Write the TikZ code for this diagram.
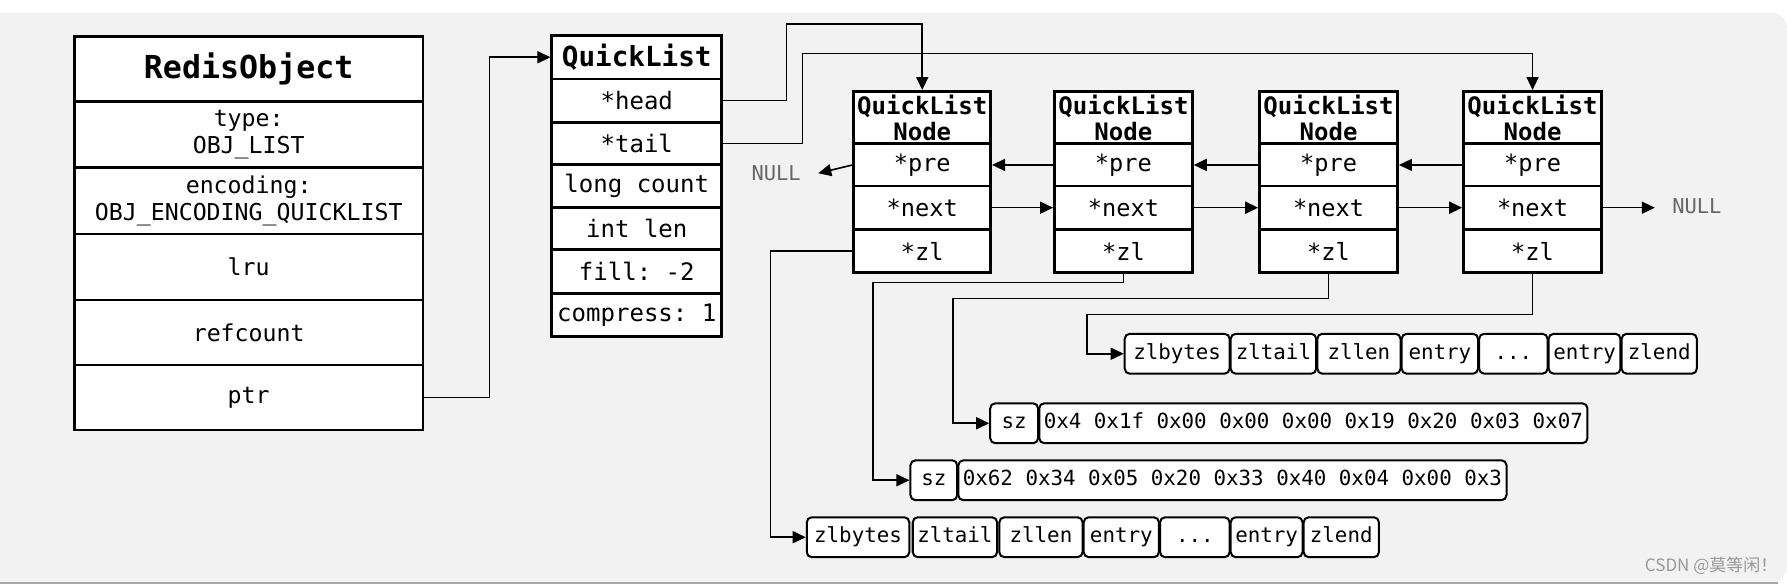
\documentclass[tikz,border=0pt]{standalone}
\usepackage{fontspec}
\setmonofont{DejaVu Sans Mono}
\newfontfamily\cjkfont{Noto Sans CJK SC}
\usetikzlibrary{arrows.meta}
\newlength\pxu \setlength\pxu{0.02cm}
\newcommand\bx[7]{\node[#1, minimum width={(#5-#3)*\pxu}, minimum height={(#6-#4)*\pxu}] (#2) at (#3,#4) {#7};}
\definecolor{bggray}{HTML}{F2F2F2}
\tikzset{
 base/.style={draw, line width=1.4pt, fill=white, inner sep=0pt, anchor=north west, align=center, font=\ttfamily\fontsize{11.6}{13.6}\selectfont},
 rtitle/.style={base, font=\ttfamily\bfseries\fontsize{15.8}{18}\selectfont},
 qrow/.style={base, font=\ttfamily\fontsize{12}{14}\selectfont},
 qtitle/.style={base, font=\ttfamily\bfseries\fontsize{13.8}{16}\selectfont},
 nhead/.style={base, font=\ttfamily\bfseries\fontsize{12}{13}\selectfont},
 nrow/.style={base, font=\ttfamily\fontsize{11.8}{14}\selectfont},
 zcell/.style={draw, line width=1pt, fill=white, rounded corners=2.5pt, inner sep=0pt, anchor=north west, font=\ttfamily\fontsize{10.4}{12}\selectfont, text height=0.75em, text depth=0.22em},
 conn/.style={line width=0.8pt, -{Triangle[length=6.5pt,width=6pt]}},
 nulltxt/.style={text=black!60, font=\ttfamily\fontsize{10.2}{12}\selectfont, inner xsep=15\pxu, inner ysep=0pt}
}
\begin{document}
\begin{tikzpicture}[x=0.02cm, y=-0.02cm]
\useasboundingbox (0,0) rectangle (1568,512);
\fill[white] (0,0) rectangle (1568,512);
\fill[bggray, rounded corners=8pt] (-20,11) rectangle (1568,511);
\draw[black!35, line width=0.8pt] (0,511.5) -- (1560,511.5);
% RedisObject
\bx{rtitle}{rt}{64}{31}{370}{88}{RedisObject}
\bx{base}{rtype}{64}{88}{370}{146}{type:\\OBJ\textunderscore LIST}
\bx{base}{renc}{64}{146}{370}{204}{encoding:\\OBJ\textunderscore ENCODING\textunderscore QUICKLIST}
\bx{base}{rlru}{64}{204}{370}{262}{lru}
\bx{base}{rref}{64}{262}{370}{319}{refcount}
\bx{base}{ptr}{64}{319}{370}{376}{ptr}
% QuickList
\bx{qtitle}{qlt}{483}{30}{632}{68}{QuickList}
\bx{qrow}{qhead}{483}{68}{632}{106}{*head}
\bx{qrow}{qtail}{483}{106}{632}{143}{*tail}
\bx{qrow}{qcount}{483}{143}{632}{181}{long count}
\bx{qrow}{qlen}{483}{181}{632}{218}{int len}
\bx{qrow}{qfill}{483}{218}{632}{256}{fill: -2}
\bx{qrow}{qcomp}{483}{256}{632}{294}{compress: 1}
% QuickList nodes
\bx{nhead}{n1h}{748}{79}{868}{125}{QuickList\\Node}
\bx{nrow}{n1pre}{748}{125}{868}{162}{*pre}
\bx{nrow}{n1next}{748}{162}{868}{200}{*next}
\bx{nrow}{n1zl}{748}{200}{868}{238}{*zl}
\bx{nhead}{n2h}{924}{79}{1045}{125}{QuickList\\Node}
\bx{nrow}{n2pre}{924}{125}{1045}{162}{*pre}
\bx{nrow}{n2next}{924}{162}{1045}{200}{*next}
\bx{nrow}{n2zl}{924}{200}{1045}{238}{*zl}
\bx{nhead}{n3h}{1104}{79}{1225}{125}{QuickList\\Node}
\bx{nrow}{n3pre}{1104}{125}{1225}{162}{*pre}
\bx{nrow}{n3next}{1104}{162}{1225}{200}{*next}
\bx{nrow}{n3zl}{1104}{200}{1225}{238}{*zl}
\bx{nhead}{n4h}{1283}{79}{1404}{125}{QuickList\\Node}
\bx{nrow}{n4pre}{1283}{125}{1404}{162}{*pre}
\bx{nrow}{n4next}{1283}{162}{1404}{200}{*next}
\bx{nrow}{n4zl}{1283}{200}{1404}{238}{*zl}
% NULL labels
\node[nulltxt, anchor=east] (nl) at (718,152) {NULL};
\node[nulltxt, anchor=west] (nr) at (1452,181) {NULL};
% ziplist top
\bx{zcell}{za1}{986}{292}{1078}{327}{zlbytes}
\bx{zcell}{za2}{1079}{292}{1154}{327}{zltail}
\bx{zcell}{za3}{1155}{292}{1228}{327}{zllen}
\bx{zcell}{za4}{1229}{292}{1296}{327}{entry}
\bx{zcell}{za5}{1297}{292}{1357}{327}{...}
\bx{zcell}{za6}{1358}{292}{1421}{327}{entry}
\bx{zcell}{za7}{1422}{292}{1488}{327}{zlend}
% compressed 1
\bx{zcell}{s1}{868}{353}{910}{388}{sz}
\bx{zcell}{d1}{911}{353}{1392}{388}{0x4 0x1f 0x00 0x00 0x00 0x19 0x20 0x03 0x07}
% compressed 2
\bx{zcell}{s2}{798}{403}{839}{438}{sz}
\bx{zcell}{d2}{840}{403}{1321}{438}{0x62 0x34 0x05 0x20 0x33 0x40 0x04 0x00 0x3}
% ziplist bottom
\bx{zcell}{zb1}{707}{453}{797}{488}{zlbytes}
\bx{zcell}{zb2}{800}{453}{874}{488}{zltail}
\bx{zcell}{zb3}{876}{453}{949}{488}{zllen}
\bx{zcell}{zb4}{950}{453}{1016}{488}{entry}
\bx{zcell}{zb5}{1017}{453}{1078}{488}{...}
\bx{zcell}{zb6}{1079}{453}{1142}{488}{entry}
\bx{zcell}{zb7}{1143}{453}{1209}{488}{zlend}
% connectors
\coordinate (h1) at (690,21);
\coordinate (t1) at (704,47);
\coordinate (c2) at (766,248);
\coordinate (c3) at (836,262);
\coordinate (c4) at (954,276);
\draw[conn] (ptr.east) -- ++(57,0) |- (qlt.west);
\draw[conn] (qhead.east) -| (h1) -| (n1h.north);
\draw[conn] (qtail.east) -| (t1) -| (n4h.north);
\draw[conn] (n1pre.west) -- (nl.east);
\draw[conn] (n2pre.west) -- (n1pre.east);
\draw[conn] (n3pre.west) -- (n2pre.east);
\draw[conn] (n4pre.west) -- (n3pre.east);
\draw[conn] (n1next.east) -- (n2next.west);
\draw[conn] (n2next.east) -- (n3next.west);
\draw[conn] (n3next.east) -- (n4next.west);
\draw[conn] (n4next.east) -- (n4next.east -| nr.west);
\draw[conn] (n1zl.west) -- ++(-72,0) |- (zb1.west);
\draw[conn] (n2zl.south) |- (c2) |- (s2.west);
\draw[conn] (n3zl.south) |- (c3) |- (s1.west);
\draw[conn] (n4zl.south) |- (c4) |- (za1.west);
% watermark
\node[text=black!40, font=\cjkfont\fontsize{8.5}{10}\selectfont, anchor=east, inner sep=0pt] (wm) at (1560,496) {CSDN @莫等闲！};
\end{tikzpicture}
\end{document}
